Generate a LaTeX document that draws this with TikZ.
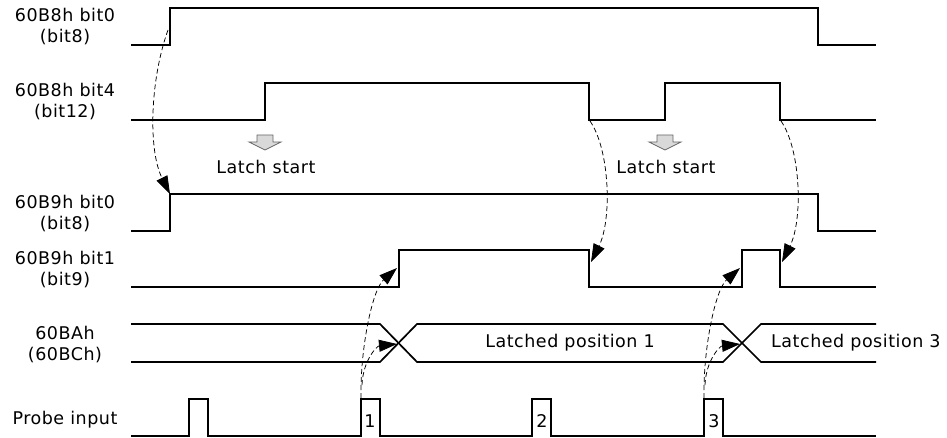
\documentclass[tikz,border=0pt]{standalone}
\usepackage{fontspec}
\setmainfont{DejaVu Sans}[LetterSpace=3]
\usetikzlibrary{arrows.meta}
\newcommand{\SigFont}{\fontsize{17.5}{21}\selectfont}
\newcommand{\WaveL}{131}
\newcommand{\WaveR}{876}
\tikzset{
  wave/.style={line width=1.7pt,line join=miter},
  latchlink/.style={
    line width=0.75pt,
    dash pattern=on 5pt off 3pt,
    -{Triangle[length=18pt,width=12pt]}
  },
  siglabel/.style={align=center,font=\SigFont,inner sep=0pt},
  latchmark/.style={fill=black!15,draw=black!60,line width=0.8pt,line join=miter}
}
\begin{document}
\begin{tikzpicture}[x=1pt,y=-1pt]
  \useasboundingbox (0,0) rectangle (947,438);

  % signal names
  \node[siglabel] (nSetA) at (65,27) {60B8h bit0\\(bit8)};
  \node[siglabel] (nSetB) at (65,102) {60B8h bit4\\(bit12)};
  \node[siglabel] (nStsA) at (65,214) {60B9h bit0\\(bit8)};
  \node[siglabel] (nStsB) at (65,269.5) {60B9h bit1\\(bit9)};
  \node[siglabel] (nPos) at (65,345) {60BAh\\(60BCh)};
  \node[siglabel] (nProbe) at (65,420) {Probe input};

  % waveforms
  \draw[wave] (\WaveL,45) -- (170,45) -- (170,8) -- (818,8) -- (818,45) -- (\WaveR,45);
  \draw[wave] (\WaveL,120) -- (265,120) -- (265,83) -- (589,83) -- (589,120)
    -- (665,120) -- (665,83) -- (780,83) -- (780,120) -- (\WaveR,120);
  \draw[wave] (\WaveL,231) -- (170,231) -- (170,194) -- (818,194) -- (818,231) -- (\WaveR,231);
  \draw[wave] (\WaveL,287) -- (399,287) -- (399,250) -- (589,250) -- (589,287)
    -- (742,287) -- (742,250) -- (780,250) -- (780,287) -- (\WaveR,287);
  \draw[wave] (\WaveL,324) -- (380,324) -- (417,362) -- (723,362) -- (761,324) -- (\WaveR,324);
  \draw[wave] (\WaveL,362) -- (380,362) -- (417,324) -- (723,324) -- (761,362) -- (\WaveR,362);
  \draw[wave] (\WaveL,436) -- (189,436) -- (189,399) -- (208,399) -- (208,436)
    -- (361,436) -- (361,399) -- (380,399) -- (380,436)
    -- (532,436) -- (532,399) -- (551,399) -- (551,436)
    -- (704,436) -- (704,399) -- (723,399) -- (723,436) -- (\WaveR,436);

  % latch start marks
  \foreach \mx/\tag in {265/A,665/B} {
    \draw[latchmark] (\mx-8,135) -- (\mx+8,135) -- (\mx+8,142) -- (\mx+16,142)
      -- (\mx,150) -- (\mx-16,142) -- (\mx-8,142) -- cycle;
    \node[font=\SigFont,inner sep=0pt] (nLatch\tag) at (\mx+1,167) {Latch start};
  }

  % position values and probe numbers
  \node[font=\SigFont,inner sep=0pt] (nLatched1) at (570,343) {Latched position 1};
  \node[font=\SigFont,inner sep=0pt,anchor=west] (nLatched3) at (771,343) {Latched position 3};
  \foreach \px/\num in {370/1,542/2,714/3}
    \node[font=\SigFont,inner sep=0pt] (nPulse\num) at (\px,421) {\num};

  % link points
  \coordinate (cSetA) at (168,30);
  \coordinate (cStsA) at (170,194);
  \coordinate (cSetBa) at (590,121);
  \coordinate (cStsBa) at (591,262);
  \coordinate (cSetBb) at (781,121);
  \coordinate (cStsBb) at (782,262);
  \coordinate (cPrbA) at (361,398);
  \coordinate (cPrbAx) at (362,385);
  \coordinate (cRiseA) at (397,268);
  \coordinate (cCrossA) at (397,344);
  \coordinate (cPrbC) at (704,398);
  \coordinate (cPrbCx) at (705,385);
  \coordinate (cRiseC) at (740,268);
  \coordinate (cCrossC) at (740,344);

  \draw[latchlink] (cSetA) .. controls (150,80) and (148,150) .. (cStsA);
  \draw[latchlink] (cSetBa) .. controls (610,150) and (612,220) .. (cStsBa);
  \draw[latchlink] (cSetBb) .. controls (801,150) and (803,220) .. (cStsBb);
  \draw[latchlink] (cPrbA) .. controls (360,350) and (372,290) .. (cRiseA);
  \draw[latchlink] (cPrbAx) .. controls (363,360) and (377,346) .. (cCrossA);
  \draw[latchlink] (cPrbC) .. controls (703,350) and (715,290) .. (cRiseC);
  \draw[latchlink] (cPrbCx) .. controls (706,360) and (720,346) .. (cCrossC);
\end{tikzpicture}
\end{document}
